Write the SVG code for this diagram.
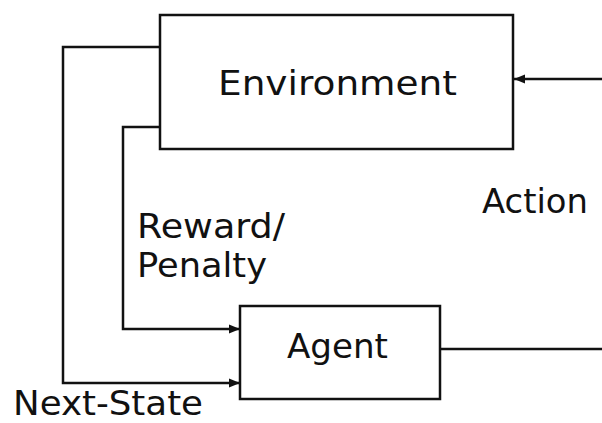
<svg xmlns="http://www.w3.org/2000/svg" width="602" height="423" viewBox="0 0 602 423">
<style>
.box{fill:#fff;stroke:#111;stroke-width:2.5}
.ln{fill:none;stroke:#111;stroke-width:2.5}
.t{font-family:"DejaVu Sans",Verdana,sans-serif;font-size:34px;fill:#111}
</style>
<defs>
<marker id="ah" viewBox="0 0 10 10" refX="10" refY="5" markerWidth="4.5" markerHeight="4.5" orient="auto" markerUnits="strokeWidth">
<path d="M0,1 L10,5 L0,9 z" fill="#111"/>
</marker>
</defs>
<rect width="602" height="423" fill="#fff"/>
<g id="connectors">
<path class="ln" d="M160,47 H63 V383 H240" marker-end="url(#ah)"/>
<path class="ln" d="M160,127 H123 V329 H240" marker-end="url(#ah)"/>
<path class="ln" d="M440,349 H602"/>
<path class="ln" d="M602,79 H514" marker-end="url(#ah)"/>
<text class="t" x="137" y="238" textLength="148" lengthAdjust="spacingAndGlyphs">Reward/</text>
<text class="t" x="137" y="277" textLength="130" lengthAdjust="spacingAndGlyphs">Penalty</text>
<text class="t" x="13" y="415" textLength="190" lengthAdjust="spacingAndGlyphs" style="font-size:33px">Next-State</text>
<text class="t" x="482" y="213" textLength="106" lengthAdjust="spacingAndGlyphs">Action</text>
</g>
<g id="environment">
<rect class="box" x="160" y="15" width="353" height="134"/>
<text class="t" x="218" y="95" textLength="239" lengthAdjust="spacingAndGlyphs">Environment</text>
</g>
<g id="agent">
<rect class="box" x="240" y="306" width="200" height="93"/>
<text class="t" x="287" y="358" textLength="101" lengthAdjust="spacingAndGlyphs">Agent</text>
</g>
</svg>
